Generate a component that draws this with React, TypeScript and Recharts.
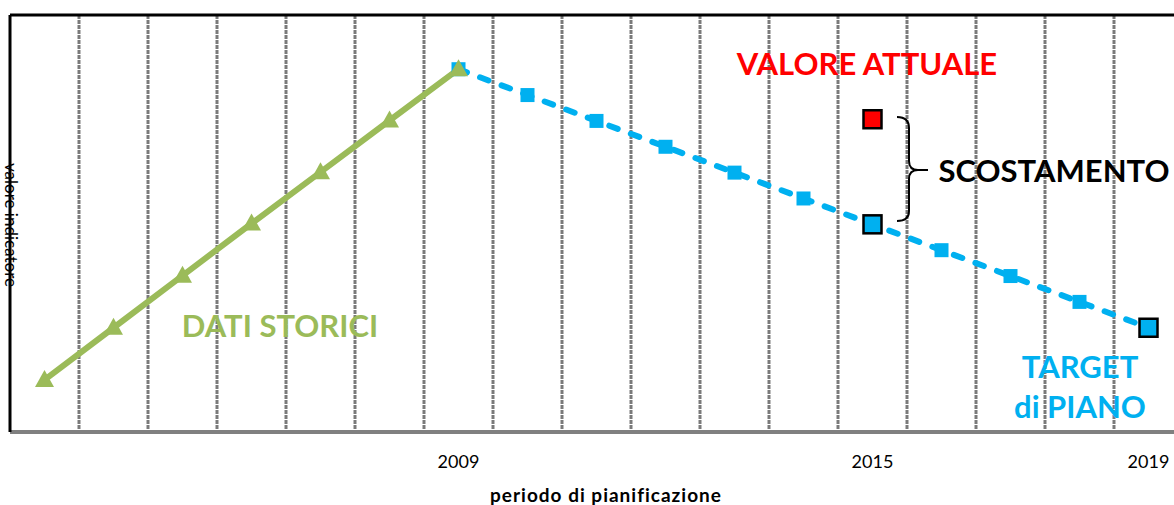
import {
  LineChart,
  Line,
  XAxis,
  YAxis,
  CartesianGrid,
  ReferenceLine,
  Customized,
} from 'recharts';

// anni del periodo (storico + piano)
const years = [
  '2003', '2004', '2005', '2006', '2007', '2008', '2009', '2010', '2011',
  '2012', '2013', '2014', '2015', '2016', '2017', '2018', '2019',
];
const storici = [12.5, 25, 37.5, 50, 62.3, 74.7, 87];
const piano = [87, 80.8, 74.6, 68.4, 62.2, 56, 49.8, 43.6, 37.4, 31.2, 25];
const attuale = 75;
const annoAttuale = '2015';
const annoTarget = '2019';
const tickLabels = ['2009', '2015', '2019'];

const GREEN = '#9BBB59';
const BLUE = '#00B0F0';
const RED = '#FF0000';
const FONT = 'Lato, "Open Sans", sans-serif';

const data = years.map((year, i) => {
  const pi = i - (years.length - piano.length);
  return {
    year,
    storici: i < storici.length ? storici[i] : null,
    piano: pi >= 0 ? piano[pi] : null,
    attuale: year === annoAttuale ? attuale : null,
  };
});

const Triangle = (props: any) => {
  const { cx, cy, index } = props;
  if (cx == null || cy == null) return <g key={`t-${index}`} />;
  return (
    <path
      key={`t-${index}`}
      d={`M${cx},${cy - 10} L${cx + 9.5},${cy + 7} L${cx - 9.5},${cy + 7} Z`}
      fill={GREEN}
    />
  );
};

const BlueSquare = (props: any) => {
  const { cx, cy, index, payload } = props;
  if (cx == null || cy == null) return <g key={`b-${index}`} />;
  const big = payload.year === annoAttuale || payload.year === annoTarget;
  if (big) {
    return (
      <rect
        key={`b-${index}`}
        x={cx - 9}
        y={cy - 9}
        width={18}
        height={18}
        fill={BLUE}
        stroke="#000"
        strokeWidth={2.5}
      />
    );
  }
  return (
    <rect key={`b-${index}`} x={cx - 7} y={cy - 7} width={14} height={14} fill={BLUE} />
  );
};

const RedSquare = (props: any) => {
  const { cx, cy, index } = props;
  if (cx == null || cy == null) return <g key={`r-${index}`} />;
  return (
    <rect
      key={`r-${index}`}
      x={cx - 9}
      y={cy - 9}
      width={18}
      height={18}
      fill={RED}
      stroke="#000"
      strokeWidth={2.5}
    />
  );
};

const Annotazioni = () => (
  <g fontFamily={FONT} fontWeight="bold">
    <text
      x={5}
      y={225}
      transform="rotate(90 5 225)"
      textAnchor="middle"
      fontSize={17}
      fill="#000"
      fontWeight="normal"
    >
      valore indicatore
    </text>
    <text x={280} y={337} textAnchor="middle" fontSize={31} fill={GREEN}>
      DATI STORICI
    </text>
    <text x={867} y={75} textAnchor="middle" fontSize={31} fill={RED}>
      VALORE ATTUALE
    </text>
    <text x={1054} y={182} textAnchor="middle" fontSize={31} fill="#000">
      SCOSTAMENTO
    </text>
    <text x={1080} y={378} textAnchor="middle" fontSize={31} fill={BLUE}>
      TARGET
    </text>
    <text x={1080} y={418} textAnchor="middle" fontSize={31} fill={BLUE}>
      di PIANO
    </text>
    <text x={606} y={502} textAnchor="middle" fontSize={19} letterSpacing={1} fill="#000">
      periodo di pianificazione
    </text>
    <path
      d="M897,117 Q909,117 909,128 L909,161 Q909,170 918,170 L928,170 M918,170 Q909,170 909,179 L909,211 Q909,221 897,221"
      fill="none"
      stroke="#000"
      strokeWidth={2}
    />
  </g>
);

const App = () => {
  return (
    <div
      style={{
        position: 'absolute',
        left: 0,
        top: 0,
        width: 1174,
        height: 505,
        overflow: 'hidden',
        background: '#fff',
      }}
    >
      <LineChart
        width={1195}
        height={505}
        data={data}
        margin={{ top: 15, right: 12, bottom: 0, left: 0 }}
      >
        <CartesianGrid
          horizontal={false}
          stroke="#7a7a7a"
          strokeWidth={3}
          strokeDasharray="4 1"
          verticalCoordinatesGenerator={({ offset }: any) =>
            years.slice(1).map((_, i) => offset.left + ((i + 1) * offset.width) / years.length)
          }
        />
        <XAxis
          dataKey="year"
          scale="band"
          height={73}
          interval={0}
          tickLine={false}
          tickMargin={17}
          axisLine={{ stroke: '#808080', strokeWidth: 4 }}
          tick={{ fill: '#000', fontSize: 18, fontFamily: FONT }}
          tickFormatter={(v: string) => (tickLabels.includes(v) ? v : '')}
        />
        <YAxis
          width={10}
          domain={[0, 100]}
          tick={false}
          tickLine={false}
          axisLine={{ stroke: '#000', strokeWidth: 3 }}
        />
        <ReferenceLine y={100} stroke="#000" strokeWidth={3} />
        <Line
          dataKey="piano"
          stroke={BLUE}
          strokeWidth={6}
          strokeDasharray="9 14"
          strokeLinecap="round"
          dot={BlueSquare}
          activeDot={false}
          connectNulls={false}
          isAnimationActive={false}
        />
        <Line
          dataKey="storici"
          stroke={GREEN}
          strokeWidth={6}
          dot={Triangle}
          activeDot={false}
          isAnimationActive={false}
        />
        <Line
          dataKey="attuale"
          stroke="none"
          dot={RedSquare}
          activeDot={false}
          isAnimationActive={false}
        />
        <Customized component={<Annotazioni />} />
      </LineChart>
    </div>
  );
};

export default App;
